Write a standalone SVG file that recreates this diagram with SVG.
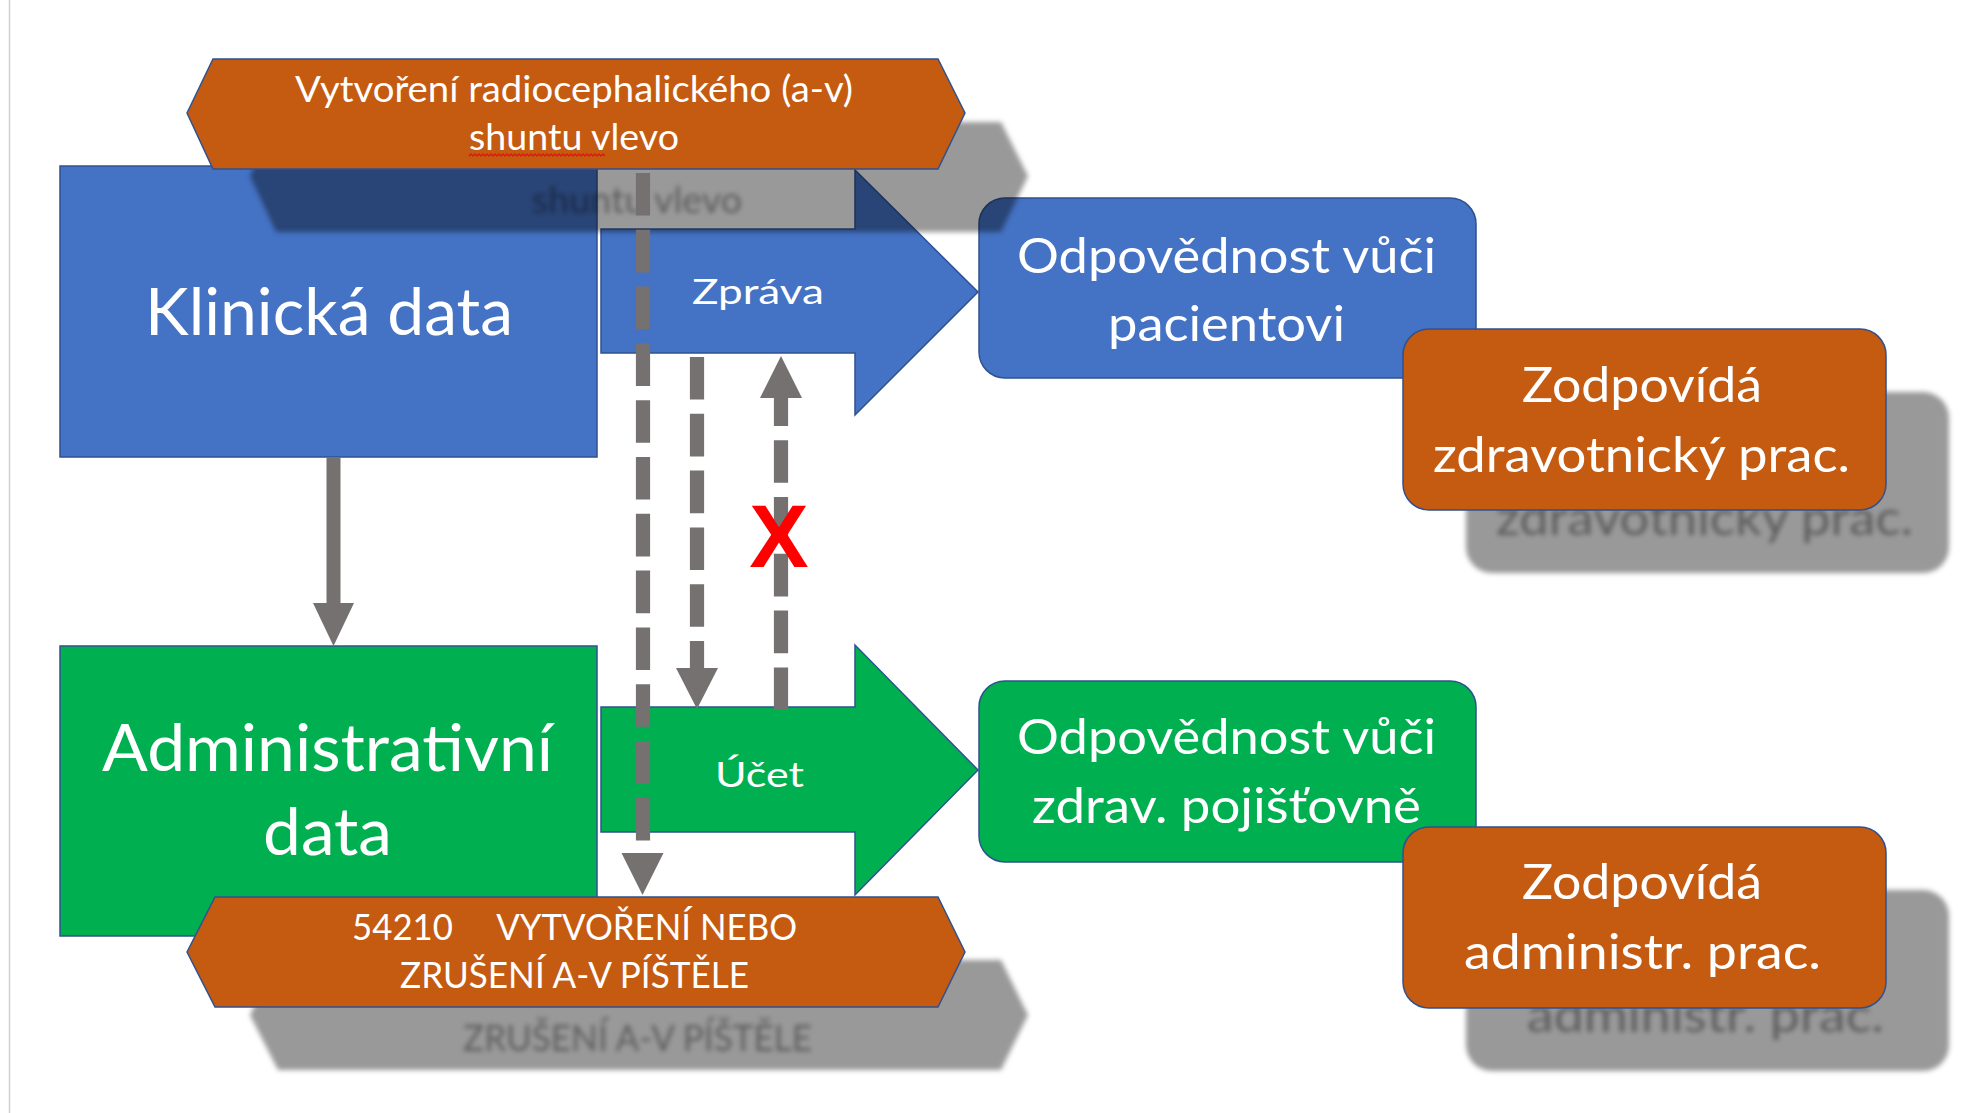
<svg xmlns="http://www.w3.org/2000/svg" xmlns:xlink="http://www.w3.org/1999/xlink" width="1961" height="1113" viewBox="0 0 1961 1113">
  <style>
    .blue { fill: #4472C4; stroke: #2F528F; stroke-width: 1.5; }
    .green { fill: #00B050; stroke: #2F528F; stroke-width: 1.5; }
    .orange { fill: #C55A11; stroke: #2F528F; stroke-width: 1.5; }
    .lbl { fill: #ffffff; font-family: Lato, "Open Sans", "Liberation Sans", sans-serif; }
    .big { font-size: 65px; }
    .mid { font-size: 48px; }
    .hex { font-size: 37px; }
    .small { font-size: 34px; }
    .shadow { fill: #000000; fill-opacity: 0.4; stroke: none; }
    .shadow text { fill: #000000; fill-opacity: 0.4; font-family: Lato, "Open Sans", "Liberation Sans", sans-serif; }
    .solid { stroke: #767171; stroke-width: 14; fill: none; }
    .dash { stroke: #767171; stroke-width: 14.2; fill: none; stroke-dasharray: 42.6 14.2; }
    .head { fill: #767171; }
    .cross { fill: #FF0000; font-family: "Liberation Sans", Arial, sans-serif; font-weight: bold; font-size: 89px; }
    .squiggle { fill: none; stroke: #E01010; stroke-width: 1.2; }
  </style>
  <defs>
    <filter id="soft" x="-10%" y="-20%" width="120%" height="140%">
      <feGaussianBlur stdDeviation="2.5"/>
    </filter>
    <polygon id="hexTopShape" points="187,113 213,59 938,59 965,113 938,169 213,169"/>
    <polygon id="hexBottomShape" points="187,952 215,897 938,897 965,952 938,1007 215,1007"/>
  </defs>

  <rect x="0" y="0" width="1961" height="1113" fill="#ffffff"/>
  <line x1="9.5" y1="0" x2="9.5" y2="1113" stroke="#d0d0d0" stroke-width="1.5"/>

  <!-- clinical data -->
  <g id="klinicka-data">
    <rect class="blue" x="60" y="166" width="537" height="291"/>
    <text class="lbl big" x="145" y="335" textLength="368" lengthAdjust="spacingAndGlyphs">Klinická data</text>
  </g>

  <!-- report arrow -->
  <g id="zprava">
    <polygon class="blue" points="601,229 855,229 855,170 978,292 855,415 855,353 601,353"/>
    <text class="lbl small" x="692" y="304" textLength="132" lengthAdjust="spacingAndGlyphs">Zpráva</text>
  </g>

  <!-- administrative data -->
  <g id="administrativni-data">
    <rect class="green" x="60" y="646" width="537" height="290"/>
    <text class="lbl big" x="102" y="771" textLength="451" lengthAdjust="spacingAndGlyphs">Administrativní</text>
    <text class="lbl big" x="263" y="855" textLength="129" lengthAdjust="spacingAndGlyphs">data</text>
  </g>

  <!-- bill arrow -->
  <g id="ucet">
    <polygon class="green" points="601,707 855,707 855,645 978,770 855,895 855,832 601,832"/>
    <text class="lbl small" x="715" y="787" textLength="89" lengthAdjust="spacingAndGlyphs">Účet</text>
  </g>

  <!-- responsibility towards the patient -->
  <g id="odpovednost-pacient">
    <rect class="blue" x="979" y="198" width="497" height="180" rx="26" ry="26"/>
    <text class="lbl mid" x="1017" y="273" textLength="419" lengthAdjust="spacingAndGlyphs">Odpovědnost vůči</text>
    <text class="lbl mid" x="1108" y="341" textLength="237" lengthAdjust="spacingAndGlyphs">pacientovi</text>
  </g>

  <!-- responsibility towards the insurer -->
  <g id="odpovednost-pojistovna">
    <rect class="green" x="979" y="681" width="497" height="181" rx="26" ry="26"/>
    <text class="lbl mid" x="1017" y="754" textLength="419" lengthAdjust="spacingAndGlyphs">Odpovědnost vůči</text>
    <text class="lbl mid" x="1032" y="823" textLength="389" lengthAdjust="spacingAndGlyphs">zdrav. pojišťovně</text>
  </g>

  <!-- connectors -->
  <g id="connectors">
    <line class="solid" x1="333.5" y1="457" x2="333.5" y2="604"/>
    <polygon class="head" points="313,603 354,603 333.5,646"/>

    <line class="dash" x1="697" y1="357" x2="697" y2="669"/>
    <polygon class="head" points="676,668 718,668 697,709"/>

    <line class="dash" x1="781" y1="710" x2="781" y2="398"/>
    <polygon class="head" points="760,398 802,398 781,356"/>
    <text class="cross" x="779" y="567" text-anchor="middle">X</text>
  </g>

  <!-- procedure name -->
  <g id="vykon-nazev">
    <g class="shadow" filter="url(#soft)" transform="translate(63,63)">
      <use xlink:href="#hexTopShape"/>
      <text class="hex" x="469" y="150" textLength="210" lengthAdjust="spacingAndGlyphs">shuntu vlevo</text>
    </g>
    <use class="orange" xlink:href="#hexTopShape"/>
    <text class="lbl hex" x="295" y="102" textLength="558" lengthAdjust="spacingAndGlyphs">Vytvoření radiocephalického (a-v)</text>
    <text class="lbl hex" x="469" y="150" textLength="210" lengthAdjust="spacingAndGlyphs">shuntu vlevo</text>
    <path class="squiggle" d="M469,156 l2,-2 l2,2 l2,-2 l2,2 l2,-2 l2,2 l2,-2 l2,2 l2,-2 l2,2 l2,-2 l2,2 l2,-2 l2,2 l2,-2 l2,2 l2,-2 l2,2 l2,-2 l2,2 l2,-2 l2,2 l2,-2 l2,2 l2,-2 l2,2 l2,-2 l2,2 l2,-2 l2,2 l2,-2 l2,2 l2,-2 l2,2 l2,-2 l2,2 l2,-2 l2,2 l2,-2 l2,2 l2,-2 l2,2 l2,-2 l2,2 l2,-2 l2,2 l2,-2 l2,2 l2,-2 l2,2 l2,-2 l2,2 l2,-2 l2,2 l2,-2 l2,2 l2,-2 l2,2 l2,-2 l2,2 l2,-2 l2,2 l2,-2 l2,2 l2,-2 l2,2 l2,-2 l2,2"/>
  </g>

  <!-- procedure code -->
  <g id="vykon-kod">
    <g class="shadow" filter="url(#soft)" transform="translate(63,63)">
      <use xlink:href="#hexBottomShape"/>
      <text class="hex" x="400" y="988" textLength="349" lengthAdjust="spacingAndGlyphs">ZRUŠENÍ A-V PÍŠTĚLE</text>
    </g>
    <use class="orange" xlink:href="#hexBottomShape"/>
    <text class="lbl hex" x="352" y="940" textLength="445" lengthAdjust="spacingAndGlyphs" xml:space="preserve" style="white-space:pre">54210     VYTVOŘENÍ NEBO</text>
    <text class="lbl hex" x="400" y="988" textLength="349" lengthAdjust="spacingAndGlyphs">ZRUŠENÍ A-V PÍŠTĚLE</text>
  </g>

  <!-- dashed link from the procedure name down to the code -->
  <g id="connector-name-code">
    <line class="dash" x1="643" y1="173" x2="643" y2="854"/>
    <polygon class="head" points="621.5,853 663.5,853 642.5,895"/>
  </g>

  <!-- health professional -->
  <g id="zdravotnik">
    <g class="shadow" filter="url(#soft)" transform="translate(63,63)">
      <rect x="1403" y="329" width="483" height="181" rx="26" ry="26"/>
      <text class="mid" x="1433" y="472" textLength="417" lengthAdjust="spacingAndGlyphs">zdravotnický prac.</text>
    </g>
    <rect class="orange" x="1403" y="329" width="483" height="181" rx="26" ry="26"/>
    <text class="lbl mid" x="1522" y="402" textLength="240" lengthAdjust="spacingAndGlyphs">Zodpovídá</text>
    <text class="lbl mid" x="1433" y="472" textLength="417" lengthAdjust="spacingAndGlyphs">zdravotnický prac.</text>
  </g>

  <!-- administrative worker -->
  <g id="administrativni-pracovnik">
    <g class="shadow" filter="url(#soft)" transform="translate(63,63)">
      <rect x="1403" y="827" width="483" height="181" rx="26" ry="26"/>
      <text class="mid" x="1464" y="969" textLength="357" lengthAdjust="spacingAndGlyphs">administr. prac.</text>
    </g>
    <rect class="orange" x="1403" y="827" width="483" height="181" rx="26" ry="26"/>
    <text class="lbl mid" x="1522" y="899" textLength="240" lengthAdjust="spacingAndGlyphs">Zodpovídá</text>
    <text class="lbl mid" x="1464" y="969" textLength="357" lengthAdjust="spacingAndGlyphs">administr. prac.</text>
  </g>
</svg>
